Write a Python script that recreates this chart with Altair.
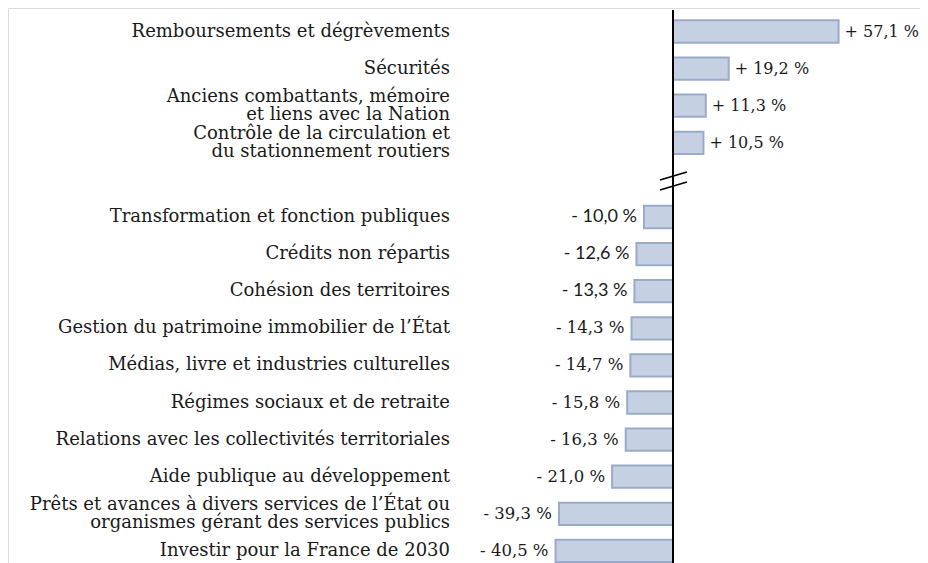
import altair as alt
import pandas as pd

categories = [
    "Remboursements et dégrèvements",
    "Sécurités",
    "Anciens combattants, mémoire\net liens avec la Nation",
    "Contrôle de la circulation et\ndu stationnement routiers",
    "Transformation et fonction publiques",
    "Crédits non répartis",
    "Cohésion des territoires",
    "Gestion du patrimoine immobilier de l’État",
    "Médias, livre et industries culturelles",
    "Régimes sociaux et de retraite",
    "Relations avec les collectivités territoriales",
    "Aide publique au développement",
    "Prêts et avances à divers services de l’État ou\norganismes gérant des services publics",
    "Investir pour la France de 2030",
]
values = [57.1, 19.2, 11.3, 10.5, -10.0, -12.6, -13.3, -14.3, -14.7, -15.8, -16.3, -21.0, -39.3, -40.5]

GAP = " "  # empty row where the axis is broken
order = categories[:4] + [GAP] + categories[4:]


def fmt(v):
    s = f"{abs(v):.1f}".replace(".", ",")
    return ("+ " if v > 0 else "- ") + s + " %"


df = pd.DataFrame({"cat": categories, "value": values, "label": [fmt(v) for v in values]})
df["zero"] = 0.0
df["multi"] = df["cat"].str.contains("\n")
sans_labels = categories[4:7]
df["sans"] = df["cat"].isin(sans_labels)

W, H = 912, 555
x0 = 665
ppu = 2.9
xdom = [-x0 / ppu, (W - x0) / ppu]
step = 37.1
ystart = 23.5 - step / 2
yscale = alt.Scale(domain=order, range=[ystart, ystart + 15 * step], paddingInner=0.4, paddingOuter=0.2)
xscale = alt.Scale(domain=xdom, nice=False, zero=False)

base = alt.Chart(df)
Y = alt.Y("cat:N", scale=yscale, axis=None, sort=order)
X = alt.X("value:Q", scale=xscale, axis=None)

SERIF = "DejaVu Serif"
INK = "#1a1a1a"

bars = base.mark_bar(fill="#c6d0e3", stroke="#9aabc9", strokeWidth=2).encode(
    y=Y, x=X, x2="zero:Q"
)

cat_single = base.transform_filter("!datum.multi").mark_text(
    align="right", baseline="middle", font=SERIF, fontSize=18, color=INK
).encode(y=Y, x=alt.value(442), text="cat:N")

cat_multi = base.transform_filter("datum.multi").mark_text(
    align="right", baseline="middle", lineBreak="\n", lineHeight=18, dy=-9,
    font=SERIF, fontSize=18, color=INK
).encode(y=Y, x=alt.value(442), text="cat:N")

pos_text = base.transform_filter("datum.value > 0").mark_text(
    align="left", baseline="middle", dx=6, font=SERIF, fontSize=16, color=INK
).encode(y=Y, x=X, text="label:N")

neg_serif = base.transform_filter("datum.value < 0 && !datum.sans").mark_text(
    align="right", baseline="middle", dx=-7, font=SERIF, fontSize=16.5, color=INK
).encode(y=Y, x=X, text="label:N")

neg_sans = base.transform_filter("datum.value < 0 && datum.sans").mark_text(
    align="right", baseline="middle", dx=-7, font="Lato", fontSize=18, color=INK
).encode(y=Y, x=X, text="label:N")

axis_line = alt.Chart(pd.DataFrame({"z": [0.0]})).mark_rule(color="black", strokeWidth=2).encode(
    x=alt.X("z:Q", scale=xscale, axis=None), y=alt.value(2), y2=alt.value(H)
)

brk = pd.DataFrame({"a": [-4.5, -4.5], "b": [4.8, 4.8], "ya": [172, 182], "yb": [164, 174]})
break_marks = alt.Chart(brk).mark_rule(color="black", strokeWidth=1.5).encode(
    x=alt.X("a:Q", scale=xscale, axis=None), x2="b:Q",
    y=alt.Y("ya:Q", scale=alt.Scale(domain=[0, H], range=[0, H]), axis=None), y2="yb:Q"
)

chart = alt.layer(bars, cat_single, cat_multi, pos_text, neg_serif, neg_sans, axis_line, break_marks).resolve_scale(
    y="independent"
).properties(
    width=W, height=H, padding=0, autosize=alt.AutoSizeParams(type="none")
).configure_view(strokeWidth=0, stroke="transparent").configure(background="white")

chart.save("out.html", embed_options={"renderer": "svg", "actions": False})
